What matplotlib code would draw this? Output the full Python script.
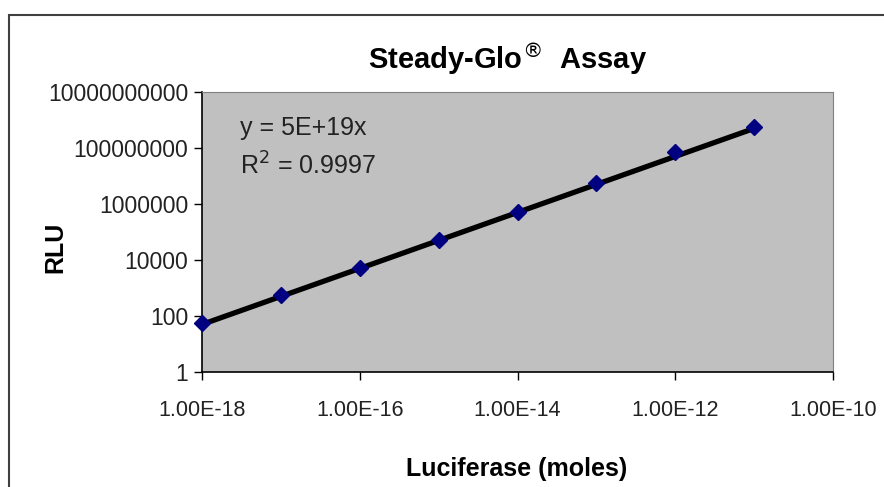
import matplotlib
matplotlib.use('Agg')
import matplotlib.pyplot as plt
from matplotlib.patches import Rectangle
from matplotlib.ticker import FixedLocator, FuncFormatter, NullLocator
import numpy as np

plt.rcParams['font.family'] = ['Liberation Sans', 'DejaVu Sans']

# datos
luciferase_moles = [1e-18, 1e-17, 1e-16, 1e-15, 1e-14, 1e-13, 1e-12, 1e-11]
rlu = [56, 560, 5200, 52000, 5.2e5, 5.6e6, 7.0e7, 5.6e8]
trend_slope = 5e19
r_squared = 0.9997

x_ticks = [1e-18, 1e-16, 1e-14, 1e-12, 1e-10]
y_ticks = [1, 1e2, 1e4, 1e6, 1e8, 1e10]

fig = plt.figure(figsize=(8.84, 4.87), dpi=100)
W, H = 884, 487

# marco exterior del area de la grafica
fig.patches.append(Rectangle((9 / W, -0.1), 1.2, 1 - 15 / H + 0.1,
                             transform=fig.transFigure, fill=False,
                             edgecolor='#404040', linewidth=1.5))

ax = fig.add_axes([202 / W, 1 - 372 / H, (833 - 202) / W, (372 - 92) / H])
ax.set_facecolor('#C0C0C0')
ax.set_xscale('log')
ax.set_yscale('log')
ax.set_xlim(1e-18, 1e-10)
ax.set_ylim(1, 1e10)

# linea de tendencia
xs = np.array([luciferase_moles[0], luciferase_moles[-1]])
ax.plot(xs, trend_slope * xs, color='black', linewidth=3.8, zorder=2)
ax.plot(luciferase_moles, rlu, linestyle='none', marker='D', markersize=8,
        color='#000080', zorder=3, clip_on=False)

ax.xaxis.set_major_locator(FixedLocator(x_ticks))
ax.yaxis.set_major_locator(FixedLocator(y_ticks))
ax.xaxis.set_minor_locator(NullLocator())
ax.yaxis.set_minor_locator(NullLocator())
ax.xaxis.set_major_formatter(FuncFormatter(lambda v, p: '%.2E' % v))
ax.yaxis.set_major_formatter(FuncFormatter(lambda v, p: '%d' % round(v)))
ax.tick_params(direction='out', length=6, width=1, labelcolor='#222222')
ax.tick_params(axis='x', labelsize=15.5, pad=14)
ax.tick_params(axis='y', labelsize=16.5, pad=4)

for side in ['top', 'right']:
    ax.spines[side].set_color('#808080')
for side in ['left', 'bottom']:
    ax.spines[side].set_color('black')
    ax.spines[side].set_linewidth(1.2)

ax.text(0.06, 0.915, 'y = 5E+19x\nR$^2$ = %.4f' % r_squared, transform=ax.transAxes,
        fontsize=18, color='#222222', va='top', linespacing=1.55)

fig.text(508 / W, 1 - 60 / H, r'Steady-Glo$^{\circledR}$  Assay', ha='center', va='center',
         fontsize=21, fontweight='bold')
fig.text(517 / W, 1 - 469 / H, 'Luciferase (moles)', ha='center', va='center',
         fontsize=18, fontweight='bold')
fig.text(55 / W, 1 - 247 / H, 'RLU', ha='center', va='center', rotation=90,
         fontsize=18, fontweight='bold')

fig.savefig('out.png', dpi=100)
